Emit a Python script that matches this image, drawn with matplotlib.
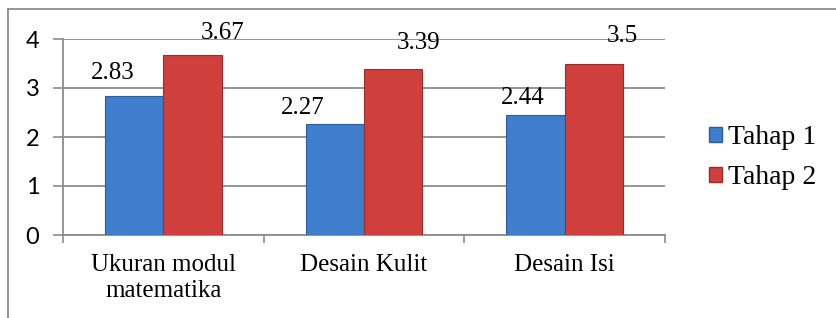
import matplotlib
matplotlib.use("Agg")
import matplotlib.pyplot as plt
import numpy as np
from matplotlib.patches import Rectangle
from matplotlib.lines import Line2D

categories = ["Ukuran modul\nmatematika", "Desain Kulit", "Desain Isi"]
series_names = ["Tahap 1", "Tahap 2"]
tahap1 = [2.83, 2.27, 2.44]
tahap2 = [3.67, 3.39, 3.5]
label_t1 = ["2.83", "2.27", "2.44"]
label_t2 = ["3.67", "3.39", "3.5"]
yticks = [0, 1, 2, 3, 4]

# label offsets in pixels (style)
off_t1 = [(-21, 23), (-32, 16), (-13, 17)]
off_t2 = [(30, 22), (25, 26), (29, 27)]

W, H = 836, 318
fig = plt.figure(figsize=(W / 100, H / 100), dpi=100)
ax = fig.add_axes([63 / W, 1 - 235 / H, (665 - 63) / W, (235 - 39) / H])

serif = ["Liberation Serif", "DejaVu Serif"]
sans = ["Lato", "DejaVu Sans"]
blue = "#3f7dcd"
red = "#cf403c"

x = np.arange(len(categories))
bw = 0.29
ax.bar(x - bw / 2, tahap1, bw, color=blue, edgecolor="#2c5d9e", linewidth=0.8, zorder=3)
ax.bar(x + bw / 2, tahap2, bw, color=red, edgecolor="#9a2c2a", linewidth=0.8, zorder=3)

for i in range(len(categories)):
    ax.annotate(label_t1[i], (x[i] - bw / 2, tahap1[i]), xytext=off_t1[i],
                textcoords="offset pixels", ha="center", va="center",
                fontsize=18, family=serif, color="black")
    ax.annotate(label_t2[i], (x[i] + bw / 2, tahap2[i]), xytext=off_t2[i],
                textcoords="offset pixels", ha="center", va="center",
                fontsize=18, family=serif, color="black")

ax.set_xlim(-0.5, len(categories) - 0.5)
ax.set_ylim(0, 4)
ax.set_yticks(yticks)
ax.set_yticklabels([str(v) for v in yticks], fontsize=17, family=sans)
ax.yaxis.grid(True, color="#8c8c8c", linewidth=1.3, zorder=0)
ax.set_axisbelow(True)
ax.tick_params(axis="y", length=7, width=1.2, color="#8c8c8c", pad=10)

ax.set_xticks(np.arange(-0.5, len(categories), 1.0), minor=False)
ax.set_xticklabels([])
ax.tick_params(axis="x", length=6, width=1.2, color="#8c8c8c")
ax.set_xticks(x, minor=True)
ax.set_xticklabels(categories, minor=True, fontsize=18, family=serif, linespacing=1.22)
ax.tick_params(axis="x", which="minor", length=0, pad=14)

for s in ["top", "right"]:
    ax.spines[s].set_visible(False)
for s in ["left", "bottom"]:
    ax.spines[s].set_color("#8c8c8c")
    ax.spines[s].set_linewidth(1.3)

handles = [Rectangle((0, 0), 1, 1, facecolor=blue, edgecolor="#2c5d9e"),
           Rectangle((0, 0), 1, 1, facecolor=red, edgecolor="#9a2c2a")]
fig.legend(handles, series_names, loc="upper left",
           bbox_to_anchor=(709 / W, 1 - 125 / H), frameon=False,
           prop={"family": serif, "size": 20}, handlelength=0.45, handleheight=0.45,
           handletextpad=0.25, labelspacing=0.55, borderpad=0, borderaxespad=0)

# outer chart border (left and top visible)
fig.add_artist(Line2D([8 / W, 8 / W], [1 - 9 / H, 0], transform=fig.transFigure,
                      color="#8c8c8c", linewidth=1.3))
fig.add_artist(Line2D([8 / W, 1], [1 - 9 / H, 1 - 9 / H], transform=fig.transFigure,
                      color="#8c8c8c", linewidth=1.3))

fig.savefig("out.png", dpi=100)
